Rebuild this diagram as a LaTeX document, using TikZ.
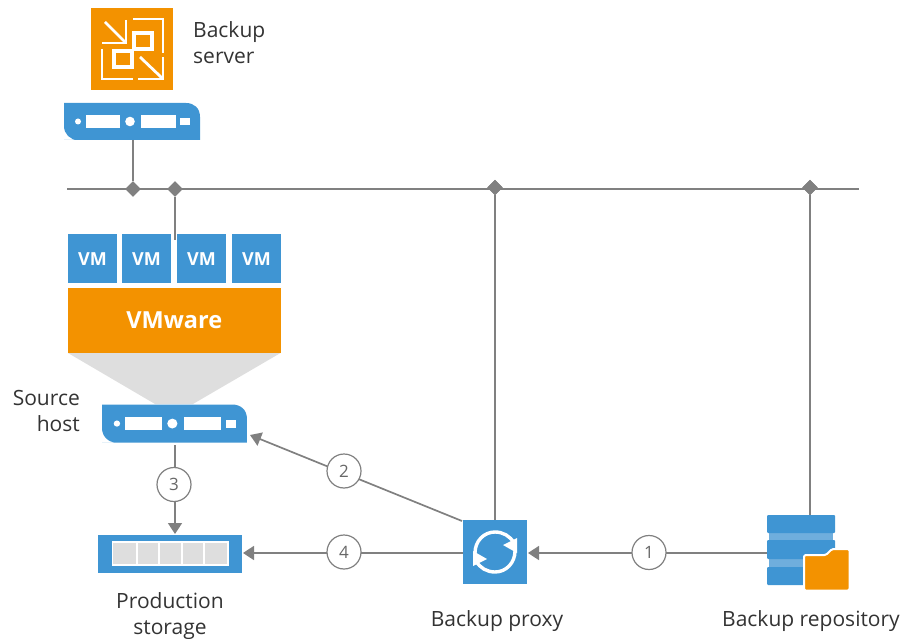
\documentclass[tikz,border=0pt]{standalone}
\usepackage{fontspec}
\setmainfont{Open Sans}
\usetikzlibrary{arrows.meta,shapes.geometric,calc}
\definecolor{vblue}{HTML}{3F95D3}
\definecolor{vstrip}{HTML}{6FAEDD}
\definecolor{vorange}{HTML}{F39200}
\definecolor{vgrey}{HTML}{808080}
\definecolor{vlight}{HTML}{DEDEDE}
\definecolor{vtext}{HTML}{333333}
\tikzset{
  wire/.style={draw=vgrey,line width=1.7pt},
  flow/.style={wire,-{Triangle[length=11pt,width=14pt]}},
  junction/.style={diamond,fill=vgrey,minimum size=15.500pt,inner sep=0pt},
  numcirc/.style={circle,draw=vgrey,line width=1.2pt,fill=white,minimum size=34pt,inner sep=0pt,font=\fontsize{17}{17}\selectfont,text=vgrey!80!black},
  vmbox/.style={fill=vblue,minimum width=49pt,minimum height=49pt,inner sep=0pt,text=white,font=\fontsize{18}{18}\selectfont\bfseries},
  lbl/.style={text=vtext,font=\fontsize{21}{26}\selectfont,inner sep=0pt,align=center},
  iconline/.style={draw=white,line width=2.8pt},
  iconsq/.style={draw=white,line width=3.4pt},
}
\newcommand{\serverbody}[4]{%
  \begin{scope}[shift={(#1,#2)},xscale=#3,yscale=#4]
  \fill[vblue] (0,37)
    -- (136,37) -- (136,14)
    .. controls (136,5) and (130,0) .. (122,0)
    -- (0,0) -- (0,23)
    .. controls (0,31) and (6,37) .. (14,37) -- cycle;
  \fill[white] (14,18.500) circle (3pt);
  \fill[white] (22,12) rectangle (56,25);
  \fill[white] (66,18.500) circle (4.800pt);
  \fill[white] (77,12) rectangle (112,25);
  \fill[white] (116,15.500) rectangle (126,22.500);
  \end{scope}
}
\begin{document}
\begin{tikzpicture}[x=1pt,y=-1pt]
\useasboundingbox (0,0) rectangle (902,639);
% coordinates
\coordinate (busL) at (67,189);
\coordinate (busR) at (859,189);
\node[junction] (j1) at (133,189) {};
\node[junction] (j2) at (175,189) {};
\node[junction] (j3) at (495,187.500) {};
\node[junction] (j4) at (810,187.500) {};
% backup server icon
\node[fill=vorange,minimum width=82pt,minimum height=82pt,inner sep=0pt] (bs) at (132,49) {};
\begin{scope}[shift={(91,8)}]
  \draw[iconline] (14,14) -- (34,34);
  \draw[iconline] (35,12) -- (35,35) -- (11,35);
  \draw[iconline] (42,11) -- (72,11) -- (72,45);
  \draw[iconsq] (43,25) rectangle (61,41);
  \draw[iconline] (11,41) -- (11,71) -- (42,71);
  \draw[iconsq] (23,43) rectangle (41,59);
  \draw[iconline] (49,49) -- (71,70);
  \draw[iconline] (72,49) -- (72,71) -- (47,71);
\end{scope}
\node[lbl,align=left,anchor=west] (bst) at (193,43) {Backup\\server};
% backup server box
\serverbody{64}{103}{1}{1}
\coordinate (srvB) at (133,140);
% source host
\fill[vlight] (68,353) -- (280.500,353) -- (193,404) -- (155,404) -- cycle;
\serverbody{102}{404.500}{1.066}{1.03}
\coordinate (hostB) at (175,445);
% VMs
\node[vmbox,text depth=0pt] (vm1) at (92.500,258.500) {\raisebox{-1pt}{VM}};
\node[vmbox,text depth=0pt] (vm2) at (146.500,258.500) {\raisebox{-1pt}{VM}};
\node[vmbox,text depth=0pt] (vm3) at (201.500,258.500) {\raisebox{-1pt}{VM}};
\node[vmbox,text depth=0pt] (vm4) at (256.500,258.500) {\raisebox{-1pt}{VM}};
\node[fill=vorange,minimum width=212.500pt,minimum height=65pt,inner sep=0pt,text=white,font=\fontsize{23.500}{23.500}\selectfont\bfseries] (vmw) at (174.250,320.500) {\raisebox{-1pt}{VMware}};
% bus
\draw[wire] (busL) -- (busR);
\draw[wire] (srvB) -- (j1);
\draw[wire] (j2) -- (175,240);
\node[junction] at (j1) {};
\node[junction] at (j2) {};
% storage
\node[fill=vblue,minimum width=144pt,minimum height=38pt,inner sep=0pt] (st) at (170,554) {};
\fill[vlight,draw=white,line width=1.2pt] (112.500,542) rectangle (228,565);
\foreach \x in {137,159,182,204}{\draw[white,line width=1.5pt] (\x,542) -- (\x,565);}
% proxy
\node[fill=vblue,minimum width=64pt,minimum height=64pt,inner sep=0pt] (px) at (495,552) {};
\draw[white,line width=3.4pt] (475,553) .. controls (475,541) and (484,532) .. (495,532) .. controls (503,532) and (510,536) .. (514,543);
\draw[white,line width=3.4pt] (515,551) .. controls (515,563) and (506,572) .. (495,572) .. controls (487,572) and (480,568) .. (476,561);
\fill[white] (517,553) -- (503,545) -- (517,538) -- cycle;
\fill[white] (473,551) -- (487,559) -- (473,566) -- cycle;
% repository
\fill[vstrip] (769,532) rectangle (833,541);
\fill[vstrip] (769,558) rectangle (833,568);
\fill[vblue,rounded corners=1pt] (767,515) rectangle (835,533);
\fill[vblue,rounded corners=1pt] (767,540) rectangle (835,559);
\fill[vblue,rounded corners=1pt] (767,567) rectangle (835,585);
\fill[vorange,draw=white,line width=2pt,rounded corners=1.500pt] (804,590.500) -- (804,555) -- (826,555) -- (832,549) -- (849.500,549) -- (849.500,590.500) -- cycle;
\coordinate (repoT) at (810,515);
\coordinate (repoL) at (767,553);
\coordinate (hostR) at (250,435);
% connectors
\draw[wire] (j3) -- (j3 |- px.north);
\draw[wire] (j4) -- (repoT);
\node[junction] at (j3) {};
\node[junction] at (j4) {};
\draw[flow] (repoL) -- (528,553);
\draw[flow] (px.west |- 0,553) -- (243,553);
\draw[flow] (462,521) -- (hostR);
\draw[flow] (hostB) -- (175,534);
% numbers
\node[numcirc] (n1) at (649,552.500) {1};
\node[numcirc] (n2) at (344,471) {2};
\node[numcirc] (n3) at (174,484.500) {3};
\node[numcirc] (n4) at (344,552) {4};
% labels
\node[lbl,align=right,anchor=east] (sht) at (80,411) {Source\\host};
\node[lbl] (pst) at (170,616.500) {Production\\storage};
\node[lbl] (bpt) at (497,621) {Backup proxy};
\node[lbl] (brt) at (811,621) {Backup repository};
\end{tikzpicture}
\end{document}
